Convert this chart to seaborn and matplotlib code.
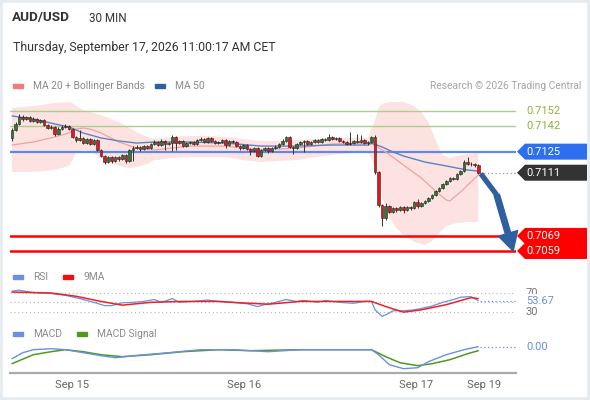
import numpy as np
import matplotlib.pyplot as plt
import matplotlib.patches as mpatches
import matplotlib.transforms as mtransforms
import seaborn as sns

# ---- AUD/USD 30 min candles ----
first_open = 0.71341
closes = [
    0.71394, 0.71434, 0.71480, 0.71467, 0.71480, 0.71454, 0.71467, 0.71447, 0.71460, 0.71427,
    0.71407, 0.71414, 0.71367, 0.71400, 0.71414, 0.71420, 0.71400, 0.71347, 0.71327, 0.71341,
    0.71307, 0.71334, 0.71301, 0.71327, 0.71261, 0.71221, 0.71181, 0.71214, 0.71188, 0.71214,
    0.71201, 0.71228, 0.71188, 0.71261, 0.71274, 0.71281, 0.71268, 0.71287, 0.71274, 0.71301,
    0.71314, 0.71294, 0.71321, 0.71301, 0.71307, 0.71347, 0.71307, 0.71321, 0.71287, 0.71307,
    0.71314, 0.71301, 0.71327, 0.71334, 0.71314, 0.71341, 0.71321, 0.71307, 0.71314, 0.71327,
    0.71294, 0.71321, 0.71314, 0.71287, 0.71274, 0.71294, 0.71268, 0.71254, 0.71274, 0.71221,
    0.71261, 0.71274, 0.71254, 0.71274, 0.71281, 0.71301, 0.71321, 0.71347, 0.71281, 0.71274,
    0.71301, 0.71314, 0.71321, 0.71301, 0.71314, 0.71327, 0.71314, 0.71334, 0.71327, 0.71347,
    0.71334, 0.71341, 0.71321, 0.71314, 0.71301, 0.71307, 0.71321, 0.71314, 0.71327, 0.71307,
    0.71314, 0.71347, 0.71115, 0.70895, 0.70809, 0.70889, 0.70849, 0.70876, 0.70862, 0.70882,
    0.70862, 0.70882, 0.70876, 0.70915, 0.70889, 0.70909, 0.70922, 0.70942, 0.70962, 0.70988,
    0.71008, 0.71035, 0.71055, 0.71075, 0.71068, 0.71101, 0.71121, 0.71181, 0.71168, 0.71165,
    0.71161, 0.71110,
]
highs = [
    0.71407, 0.71447, 0.71500, 0.71493, 0.71490, 0.71487, 0.71477, 0.71474, 0.71470, 0.71467,
    0.71434, 0.71427, 0.71420, 0.71414, 0.71427, 0.71434, 0.71427, 0.71407, 0.71354, 0.71394,
    0.71347, 0.71341, 0.71341, 0.71334, 0.71334, 0.71268, 0.71228, 0.71221, 0.71221, 0.71221,
    0.71221, 0.71234, 0.71234, 0.71268, 0.71287, 0.71294, 0.71287, 0.71294, 0.71294, 0.71307,
    0.71327, 0.71321, 0.71334, 0.71327, 0.71314, 0.71361, 0.71354, 0.71327, 0.71327, 0.71314,
    0.71321, 0.71321, 0.71334, 0.71347, 0.71341, 0.71347, 0.71347, 0.71327, 0.71321, 0.71334,
    0.71334, 0.71327, 0.71327, 0.71321, 0.71294, 0.71301, 0.71301, 0.71274, 0.71281, 0.71281,
    0.71268, 0.71281, 0.71281, 0.71281, 0.71294, 0.71307, 0.71334, 0.71354, 0.71354, 0.71287,
    0.71307, 0.71321, 0.71327, 0.71327, 0.71321, 0.71334, 0.71334, 0.71341, 0.71341, 0.71367,
    0.71354, 0.71347, 0.71347, 0.71327, 0.71320, 0.71381, 0.71327, 0.71367, 0.71361, 0.71334,
    0.71321, 0.71354, 0.71361, 0.71121, 0.70902, 0.70909, 0.70895, 0.70882, 0.70882, 0.70889,
    0.70889, 0.70889, 0.70889, 0.70922, 0.70935, 0.70915, 0.70929, 0.70949, 0.70969, 0.70995,
    0.71015, 0.71042, 0.71062, 0.71082, 0.71082, 0.71108, 0.71128, 0.71194, 0.71214, 0.71181,
    0.71175, 0.71168,
]
lows = [
    0.71321, 0.71387, 0.71427, 0.71454, 0.71460, 0.71447, 0.71447, 0.71440, 0.71440, 0.71420,
    0.71400, 0.71400, 0.71354, 0.71361, 0.71394, 0.71407, 0.71394, 0.71341, 0.71314, 0.71321,
    0.71301, 0.71301, 0.71294, 0.71294, 0.71254, 0.71214, 0.71168, 0.71175, 0.71175, 0.71181,
    0.71188, 0.71194, 0.71175, 0.71181, 0.71188, 0.71268, 0.71254, 0.71261, 0.71268, 0.71268,
    0.71294, 0.71287, 0.71287, 0.71261, 0.71294, 0.71254, 0.71261, 0.71301, 0.71281, 0.71281,
    0.71301, 0.71294, 0.71294, 0.71321, 0.71307, 0.71307, 0.71314, 0.71301, 0.71301, 0.71307,
    0.71274, 0.71287, 0.71307, 0.71281, 0.71261, 0.71268, 0.71261, 0.71228, 0.71248, 0.71214,
    0.71214, 0.71254, 0.71241, 0.71248, 0.71268, 0.71274, 0.71294, 0.71314, 0.71274, 0.71234,
    0.71268, 0.71294, 0.71248, 0.71294, 0.71294, 0.71307, 0.71307, 0.71307, 0.71321, 0.71321,
    0.71327, 0.71327, 0.71314, 0.71307, 0.71294, 0.71294, 0.71301, 0.71307, 0.71307, 0.71301,
    0.71294, 0.71307, 0.71101, 0.70882, 0.70756, 0.70796, 0.70842, 0.70842, 0.70849, 0.70856,
    0.70842, 0.70856, 0.70862, 0.70869, 0.70876, 0.70882, 0.70902, 0.70915, 0.70935, 0.70955,
    0.70982, 0.71002, 0.71028, 0.71048, 0.71062, 0.71062, 0.71095, 0.71115, 0.71161, 0.71155,
    0.71148, 0.71101,
]

# Bollinger bands / moving averages, read at a few candles
bb_up_idx = [0, 6, 12, 16, 17, 18, 20, 22, 25, 30, 33, 35, 38, 40, 45, 50, 55, 60, 65, 70,
             75, 80, 85, 90, 95, 100, 102, 103, 104, 106, 110, 113, 115, 117, 119, 121, 123, 125, 128, 131]
bb_up = [0.71540, 0.71553, 0.71573, 0.71580, 0.71573, 0.71553, 0.71527, 0.71513, 0.71493, 0.71447,
         0.71407, 0.71380, 0.71347, 0.71334, 0.71347, 0.71354, 0.71354, 0.71347, 0.71334, 0.71321,
         0.71321, 0.71327, 0.71334, 0.71341, 0.71341, 0.71341, 0.71460, 0.71540, 0.71567, 0.71580,
         0.71580, 0.71553, 0.71513, 0.71447, 0.71327, 0.71228, 0.71208, 0.71221, 0.71234, 0.71241]
bb_low_idx = [0, 6, 12, 16, 17, 18, 20, 22, 25, 30, 33, 35, 38, 40, 45, 50, 55, 60, 65, 70,
              75, 80, 85, 90, 95, 100, 102, 103, 104, 106, 108, 110, 113, 116, 118, 120, 122, 125, 128, 131]
bb_low = [0.71115, 0.71115, 0.71128, 0.71155, 0.71194, 0.71248, 0.71261, 0.71254, 0.71208, 0.71155,
          0.71141, 0.71148, 0.71168, 0.71194, 0.71208, 0.71214, 0.71214, 0.71214, 0.71194, 0.71181,
          0.71188, 0.71194, 0.71214, 0.71228, 0.71241, 0.71248, 0.71161, 0.71062, 0.70942, 0.70809,
          0.70743, 0.70696, 0.70650, 0.70630, 0.70656, 0.70709, 0.70756, 0.70776, 0.70782, 0.70782]
ma20_idx = [0, 6, 12, 16, 18, 20, 22, 25, 30, 35, 40, 45, 50, 60, 70, 80, 90, 100, 101, 105,
            110, 115, 119, 122, 123, 126, 131]
ma20 = [0.71294, 0.71314, 0.71347, 0.71374, 0.71400, 0.71407, 0.71400, 0.71374, 0.71314, 0.71274,
        0.71261, 0.71274, 0.71287, 0.71287, 0.71261, 0.71274, 0.71301, 0.71307, 0.71301, 0.71248,
        0.71161, 0.71075, 0.70988, 0.70929, 0.70922, 0.70982, 0.71095]
ma50_idx = [0, 6, 12, 16, 20, 25, 30, 35, 40, 50, 60, 70, 80, 90, 100, 101, 104, 107, 110, 113,
            116, 119, 122, 125, 128, 131]
ma50 = [0.71487, 0.71467, 0.71434, 0.71414, 0.71374, 0.71341, 0.71321, 0.71307, 0.71314, 0.71314,
        0.71307, 0.71287, 0.71287, 0.71294, 0.71294, 0.71307, 0.71281, 0.71248, 0.71221, 0.71201,
        0.71181, 0.71168, 0.71155, 0.71141, 0.71128, 0.71121]

resistances = [0.7152, 0.7142]
pivot = 0.7125
supports = [0.7069, 0.7059]

# RSI and its 9 period MA
rsi_idx = [0, 2, 6, 11, 15, 19, 23, 26, 28, 31, 34, 37, 40, 42, 45, 47, 51, 55, 58, 62,
           66, 69, 72, 74, 77, 80, 82, 86, 88, 92, 96, 99, 101, 102, 104, 106, 107, 110, 113, 115,
           118, 121, 124, 126, 128, 129, 131]
rsi = [74, 76, 71, 69, 65, 58, 50, 43, 43, 49, 50, 52, 56, 50, 58, 50, 52, 55, 52, 50,
       47, 41, 47, 50, 56, 52, 54, 50, 54, 50, 48, 52, 52, 34, 20, 27, 32, 32, 34, 37,
       42, 50, 56, 61, 62, 62, 53.67]
rsi_ma_idx = [0, 11, 18, 25, 31, 39, 48, 58, 62, 72, 81, 101, 105, 110, 115, 122, 128, 129, 131]
rsi_ma = [72, 70, 63, 52, 44, 50, 52, 52, 50, 46, 52, 52, 41, 29, 34, 45, 58, 60, 58]

# MACD and signal
macd_idx = [0, 3, 6, 11, 15, 20, 25, 29, 34, 44, 53, 62, 72, 81, 101, 103, 106, 110, 114, 117,
            122, 127, 131]
macd = [-0.00012, -0.00006, -0.00003, -0.00002, -0.00003, -0.00006, -0.00009, -0.00011, -0.00009,
        -0.00006, -0.00003, -0.00003, -0.00005, -0.00003, -0.00003, -0.00008, -0.00018, -0.00022,
        -0.00021, -0.00015, -0.00008, -0.00003, 0.0]
signal_idx = [0, 6, 11, 15, 20, 25, 31, 39, 48, 58, 67, 81, 101, 105, 109, 114, 118, 123, 128, 131]
signal = [-0.00017, -0.00008, -0.00005, -0.00003, -0.00005, -0.00008, -0.00010, -0.00008, -0.00005,
          -0.00003, -0.00004, -0.00003, -0.00003, -0.00010, -0.00016, -0.00019, -0.00017, -0.00013,
          -0.00007, -0.00004]

date_labels = ['Sep 15', 'Sep 16', 'Sep 17', 'Sep 19']
date_pos = [16.85, 65.2, 113.5, 132.7]

# ---- style ----
sns.set_style('white')
plt.rcParams['font.family'] = ['Roboto', 'DejaVu Sans']

GREEN_C = '#2e7a2e'
RED_C = '#e8141b'
BLUE = '#6b8fe3'
DARK_BLUE = '#2f5f9f'
GRAY = '#8a8a8a'

W, H = 590, 400
fig = plt.figure(figsize=(W / 100, H / 100), dpi=100)


def fx(px):
    return px / W


def fy(py):
    return 1 - py / H


def axes_px(x0, y0, x1, y1):
    return fig.add_axes([fx(x0), fy(y1), fx(x1) - fx(x0), fy(y0) - fy(y1)])


ax = axes_px(10, 95, 516, 258)
ax_rsi = axes_px(10, 286, 516, 318)
ax_macd = axes_px(10, 340, 516, 373)

n = len(closes)
xlim = (-0.56, 141.6)
idx = np.arange(n)
c = np.array(closes)
o = np.array([first_open] + closes[:-1])
hi = np.array(highs)
lo = np.array(lows)

# ---- price panel ----
ax.fill(np.r_[bb_up_idx, bb_low_idx[::-1]], np.r_[bb_up, bb_low[::-1]],
        color='#fde2e2', lw=0, zorder=1)
for lvl in resistances:
    ax.axhline(lvl, color='#a8d28c', lw=1.0, zorder=2)
ax.axhline(pivot, color='#5b8ae8', lw=1.6, zorder=2)
for lvl in supports:
    ax.axhline(lvl, color='#ff0000', lw=1.8, zorder=2)

sns.lineplot(x=ma20_idx, y=ma20, ax=ax, color='#f5a0a0', lw=0.9, zorder=3)
sns.lineplot(x=ma50_idx, y=ma50, ax=ax, color='#5b82c4', lw=1.0, zorder=3)

up = c >= o
ax.vlines(idx, lo, hi, color='#333333', lw=0.7, zorder=4)
ax.bar(idx, np.maximum(np.abs(c - o), 0.00002), bottom=np.minimum(o, c), width=0.72,
       color=np.where(up, GREEN_C, RED_C), edgecolor='#222222', linewidth=0.4, zorder=5)

ax.plot([n - 0.5, xlim[1]], [c[-1], c[-1]], ls=(0, (1, 2)), color='#999999', lw=0.9, zorder=3)

# forecast arrow
bend = (n + 4.2, 0.70962)
tip = (n + 8.8, supports[-1])
ax.plot([n - 0.3, bend[0]], [c[-1] - 0.00006, bend[1]], color=DARK_BLUE, lw=3.8,
        solid_capstyle='butt', zorder=6, clip_on=False)
ax.add_patch(mpatches.FancyArrowPatch(bend, tip, arrowstyle='simple,head_length=1.1,head_width=1.2,tail_width=0.33',
                                      mutation_scale=12, color=DARK_BLUE, zorder=6, clip_on=False,
                                      shrinkA=0, shrinkB=0))

ax.set_xlim(*xlim)
ax.set_ylim(0.705433, 0.716263)

# right hand price labels
tr = mtransforms.blended_transform_factory(ax.transAxes, ax.transData)
px_per_unit = (258 - 95) / (0.716263 - 0.705433)
half = 8 / px_per_unit
x_tip, x_body, x_end, x_txt = (517 - 10) / 506, (525 - 10) / 506, (587 - 10) / 506, (526 - 10) / 506


def tag(y, face, text_color='white'):
    poly = mpatches.Polygon([(x_tip, y), (x_body, y + half), (x_end, y + half),
                             (x_end, y - half), (x_body, y - half)], closed=True,
                            transform=tr, facecolor=face, edgecolor='none', clip_on=False, zorder=7)
    ax.add_patch(poly)
    ax.text(x_txt, y, f'{y:.4f}', transform=tr, color=text_color, fontsize=8,
            va='center', ha='left', zorder=8, clip_on=False)


for lvl in resistances:
    ax.text(x_txt, lvl, f'{lvl:.4f}', transform=tr, color='#8ab43e', fontsize=8,
            va='center', ha='left', clip_on=False)
tag(pivot, '#2c6ff0')
tag(round(c[-1], 4), '#333333')
for lvl in supports:
    tag(lvl, '#ff0000')

# ---- RSI panel ----
for lvl in (70, 50, 30):
    ax_rsi.axhline(lvl, color='#b5b5b5', ls=(0, (1, 2.5)), lw=0.8, zorder=1)
sns.lineplot(x=rsi_ma_idx, y=rsi_ma, ax=ax_rsi, color='#ee2222', lw=1.1, zorder=3)
sns.lineplot(x=rsi_idx, y=rsi, ax=ax_rsi, color=BLUE, lw=0.9, zorder=2)
ax_rsi.plot([rsi_idx[-1] + 0.5, xlim[1]], [rsi[-1], rsi[-1]], ls=(0, (1, 2)), color=BLUE, lw=0.9)
ax_rsi.set_xlim(*xlim)
ax_rsi.set_ylim(16.5, 85.0)
tr_r = mtransforms.blended_transform_factory(ax_rsi.transAxes, ax_rsi.transData)
for lvl in (70, 30):
    ax_rsi.text(x_txt, lvl, str(lvl), transform=tr_r, color='#777777', fontsize=8,
                va='center', ha='left', clip_on=False)
ax_rsi.text(x_txt, rsi[-1], f'{rsi[-1]:.2f}', transform=tr_r, color=BLUE, fontsize=8,
            va='center', ha='left', clip_on=False, zorder=5,
            bbox=dict(facecolor='white', edgecolor='none', pad=1.2))

# ---- MACD panel ----
sns.lineplot(x=signal_idx, y=signal, ax=ax_macd, color='#4e9a1c', lw=1.1, zorder=2)
sns.lineplot(x=macd_idx, y=macd, ax=ax_macd, color=BLUE, lw=1.0, zorder=3)
ax_macd.plot([macd_idx[-1] + 0.5, xlim[1]], [macd[-1], macd[-1]], ls=(0, (1, 2)), color=BLUE, lw=0.9)
ax_macd.set_xlim(*xlim)
ax_macd.set_ylim(-0.000263, 0.000067)
tr_m = mtransforms.blended_transform_factory(ax_macd.transAxes, ax_macd.transData)
ax_macd.text(x_txt, macd[-1], f'{macd[-1]:.2f}', transform=tr_m, color=BLUE, fontsize=8,
             va='center', ha='left', clip_on=False)

for a in (ax, ax_rsi, ax_macd):
    a.set_xticks([])
    a.set_yticks([])
    a.set_xlabel('')
    a.set_ylabel('')
    for s in a.spines.values():
        s.set_visible(False)
    a.patch.set_alpha(0)

ax_macd.spines['bottom'].set_visible(True)
ax_macd.spines['bottom'].set_color('#aaaaaa')
ax_macd.spines['bottom'].set_linewidth(1.6)
ax_macd.set_xticks(date_pos)
ax_macd.set_xticklabels(date_labels)
ax_macd.set_xticks(list(xlim), minor=True)
ax_macd.tick_params(axis='x', which='major', length=0, pad=5, labelsize=8, labelcolor='#666666')
ax_macd.tick_params(axis='x', which='minor', length=4, width=1.6, color='#aaaaaa', direction='out')

# ---- header and legends ----
fig.text(fx(12), fy(18), 'AUD/USD', fontsize=9.7, fontweight='bold', color='#333333', va='center')
fig.text(fx(89), fy(18), '30 MIN', fontsize=8.4, color='#333333', va='center')
fig.text(fx(13), fy(48), 'Thursday, September 17, 2026 11:00:17 AM CET', fontsize=8.8,
         color='#333333', va='center')
fig.text(fx(581), fy(86), 'Research \u00a9 2026 Trading Central', fontsize=7.4, color='#a5a5a5',
         va='center', ha='right')


def legend_item(x, y, color, label):
    fig.patches.append(mpatches.Rectangle((fx(x), fy(y + 2)), fx(10), 4 / H, color=color,
                                          transform=fig.transFigure, figure=fig))
    fig.text(fx(x + 20), fy(y), label, fontsize=7.4, color=GRAY, va='center')


legend_item(13, 86, '#f77a7a', 'MA 20 + Bollinger Bands')
legend_item(155, 86, DARK_BLUE, 'MA 50')
legend_item(13, 277, BLUE, 'RSI')
legend_item(63, 277, '#ee1111', '9MA')
legend_item(13, 334, BLUE, 'MACD')
legend_item(77, 334, '#4e9a1c', 'MACD Signal')

fig.patches.append(mpatches.Rectangle((0, 0), 1, 1, fill=False, edgecolor='#e6ebf0', lw=4,
                                      transform=fig.transFigure, figure=fig))

fig.savefig('out.png', dpi=100)
